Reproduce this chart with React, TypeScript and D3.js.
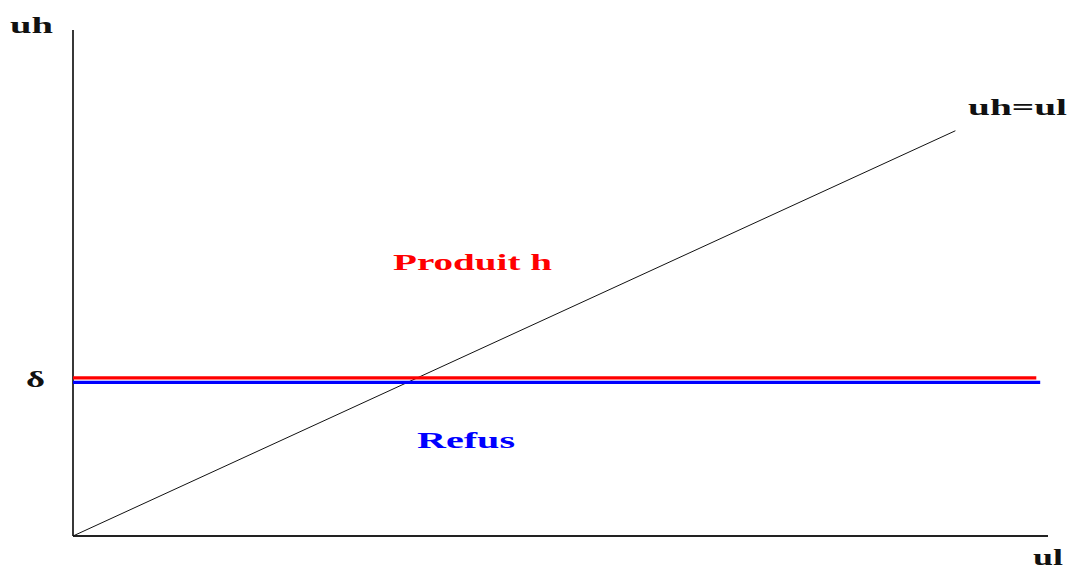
import React from "react";
import * as d3 from "d3";

// values
const diagonal = [
  { ul: 0, uh: 0 },
  { ul: 0.905, uh: 0.905 },
];
const delta = 0.348;
const thresholdEnd = [0.988, 0.992]; // red, blue
const thresholdColors = ["#ff0000", "#0000ff"];
const regionLabels = ["Produit h", "Refus"];
const axisNames = ["ul", "uh"];

const W = 1072;
const H = 569;

export default function App() {
  const x = d3.scaleLinear().domain([0, 1]).range([73, 1048]);
  const y = d3.scaleLinear().domain([0, 1.13]).range([536, 30]);

  const line = d3
    .line<{ ul: number; uh: number }>()
    .x((d) => x(d.ul))
    .y((d) => y(d.uh));

  const font = "'Liberation Serif', 'DejaVu Serif', serif";

  return (
    <svg
      width={W}
      height={H}
      style={{ position: "absolute", left: 0, top: 0, background: "#fff" }}
    >
      {/* axes */}
      <line x1={x(0)} x2={x(0)} y1={y(0)} y2={y.range()[1]} stroke="#222" strokeWidth={1.8} />
      <line x1={x(0)} x2={x.range()[1]} y1={y(0)} y2={y(0)} stroke="#222" strokeWidth={1.8} />

      {/* uh = ul */}
      <path d={line(diagonal) ?? ""} fill="none" stroke="#111" strokeWidth={1} />

      {/* delta threshold lines */}
      {thresholdColors.map((c, i) => (
        <line
          key={c}
          x1={x(0)}
          x2={x(thresholdEnd[i])}
          y1={y(delta) + (i === 0 ? -2.3 : 2.2)}
          y2={y(delta) + (i === 0 ? -2.3 : 2.2)}
          stroke={c}
          strokeWidth={3.3}
        />
      ))}

      <g fontFamily={font} fontWeight="bold" fontSize={23}>
        <text x={10} y={33} textLength={43} lengthAdjust="spacingAndGlyphs" fill="#111">
          {axisNames[1]}
        </text>
        <text x={1033} y={565} textLength={30} lengthAdjust="spacingAndGlyphs" fill="#111">
          {axisNames[0]}
        </text>
        <text x={26} y={387} textLength={19} lengthAdjust="spacingAndGlyphs" fill="#111">
          δ
        </text>
        <text x={968} y={115} textLength={99} lengthAdjust="spacingAndGlyphs" fill="#111">
          uh=ul
        </text>
        <text x={393} y={270} textLength={159} lengthAdjust="spacingAndGlyphs" fill={thresholdColors[0]}>
          {regionLabels[0]}
        </text>
        <text x={417} y={448} textLength={98} lengthAdjust="spacingAndGlyphs" fill={thresholdColors[1]}>
          {regionLabels[1]}
        </text>
      </g>
    </svg>
  );
}
